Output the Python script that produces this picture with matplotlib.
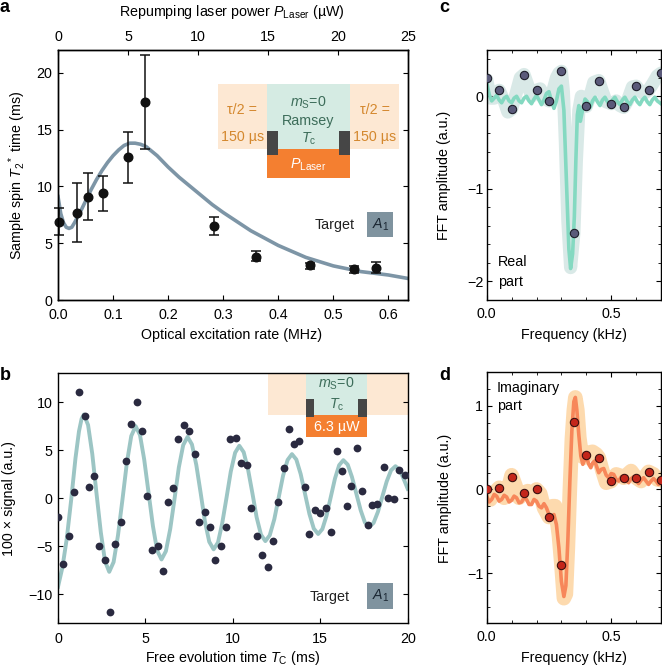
import matplotlib
matplotlib.use('Agg')
import matplotlib.pyplot as plt
from matplotlib.patches import Rectangle
from matplotlib.ticker import MultipleLocator, FormatStrFormatter

plt.rcParams['font.family'] = ['Liberation Sans', 'DejaVu Sans']
plt.rcParams['font.size'] = 10.3
plt.rcParams['mathtext.fontset'] = 'custom'
plt.rcParams['mathtext.rm'] = 'Liberation Sans'
plt.rcParams['mathtext.it'] = 'Liberation Sans:italic'
plt.rcParams['mathtext.bf'] = 'Liberation Sans:bold'
plt.rcParams['axes.linewidth'] = 1.0
plt.rcParams['xtick.direction'] = 'in'
plt.rcParams['ytick.direction'] = 'in'
plt.rcParams['xtick.major.size'] = 3.6
plt.rcParams['ytick.major.size'] = 3.6
plt.rcParams['xtick.minor.size'] = 2.0
plt.rcParams['ytick.minor.size'] = 2.0

# ---- panel a: T2* vs optical excitation rate
rate_a = [0.002, 0.034, 0.055, 0.081, 0.127, 0.158, 0.283, 0.359, 0.458, 0.538, 0.578]
t2_a = [6.9, 7.7, 9.1, 9.4, 12.55, 17.44, 6.5, 3.8, 3.08, 2.7, 2.85]
t2_hi = [8.06, 10.3, 11.2, 10.9, 14.8, 21.6, 7.3, 4.3, 3.3, 3.0, 3.37]
t2_lo = [5.7, 5.1, 7.0, 7.85, 10.3, 13.3, 5.7, 3.4, 2.75, 2.4, 2.4]
fit_a_x = [0, 0.005, 0.01, 0.015, 0.02, 0.025, 0.03, 0.04, 0.05, 0.06, 0.07, 0.08,
           0.09, 0.1, 0.11, 0.12, 0.13, 0.14, 0.15, 0.16, 0.18, 0.2, 0.22, 0.25,
           0.28, 0.3, 0.35, 0.4, 0.45, 0.5, 0.55, 0.6, 0.635]
fit_a_y = [9.1, 7.6, 6.8, 6.4, 6.3, 6.4, 6.8, 7.7, 8.7, 9.7, 10.6, 11.4,
           12.1, 12.7, 13.2, 13.6, 13.8, 13.8, 13.7, 13.5, 12.7, 11.7, 10.8, 9.6,
           8.4, 7.7, 6.1, 4.8, 3.75, 3.0, 2.5, 2.2, 1.9]

# ---- panel b: Ramsey signal
time_b = [0.0, 0.31, 0.63, 0.92, 1.2, 1.55, 1.78, 2.08, 2.37, 2.69, 2.98, 3.27, 3.61,
          3.9, 4.18, 4.49, 4.81, 5.08, 5.39, 5.73, 6.0, 6.3, 6.59, 6.88, 7.18, 7.51,
          7.83, 8.08, 8.4, 8.71, 9.0, 9.3, 9.61, 9.86, 10.2, 10.47, 10.81, 11.06,
          11.37, 11.69, 12.0, 12.3, 12.59, 12.91, 13.2, 13.49, 13.81, 14.1, 14.38,
          14.69, 15.01, 15.3, 15.59, 15.93, 16.22, 16.54, 16.77, 17.12, 17.4, 17.73,
          17.98, 18.26, 18.65, 18.87, 19.21, 19.5, 19.83]
signal_b = [-1.9, -6.8, -3.9, 0.7, 11.1, 8.6, 1.15, 2.36, -4.9, -6.4, -11.8, -4.75, -2.5,
            3.9, 7.8, 10.0, 7.05, 0.24, -5.4, -5.0, -7.6, -0.4, 1.04, 6.15, 7.64, 7.05,
            4.6, -2.5, -1.4, -3.0, -6.4, -5.0, -2.95, 6.15, 6.25, 3.7, 3.5, -1.0,
            -3.9, -5.9, -7.1, -4.4, -0.35, 3.2, 7.2, 5.7, 6.0, 1.2, -3.65,
            -1.2, -1.5, -1.0, -3.5, 4.96, 2.88, -0.8, 1.28, 5.3, 0.76, -2.78,
            -0.63, -0.6, 3.3, 0.0, -0.1, 2.98, 2.4]
fit_b_t = [0, 0.25, 0.5, 0.75, 1.0, 1.2, 1.35, 1.48,
           1.72, 1.96, 2.2, 2.45, 2.69, 2.93,
           3.18, 3.43, 3.69, 3.94, 4.19, 4.44,
           4.69, 4.93, 5.18, 5.43, 5.67, 5.92,
           6.17, 6.42, 6.67, 6.91, 7.16, 7.41,
           7.66, 7.91, 8.16, 8.40, 8.65, 8.9,
           9.15, 9.39, 9.64, 9.88, 10.13, 10.37,
           10.62, 10.87, 11.12, 11.36, 11.61, 11.86,
           12.11, 12.37, 12.62, 12.87, 13.13, 13.38,
           13.63, 13.88, 14.13, 14.38, 14.63, 14.88,
           15.12, 15.36, 15.6, 15.84, 16.08, 16.32,
           16.57, 16.81, 17.06, 17.31, 17.55, 17.8,
           18.05, 18.3, 18.55, 18.8, 19.05, 19.3,
           19.55, 19.8, 20.0]
fit_b_y = [-9.2, -7.2, -4.2, -0.2, 4.2, 7.0, 8.3, 8.75,
           7.65, 4.65, 0.56, -3.54, -6.54, -7.64,
           -6.62, -3.85, -0.06, 3.74, 6.51, 7.53,
           6.60, 4.06, 0.59, -2.88, -5.42, -6.35,
           -5.49, -3.16, 0.04, 3.23, 5.56, 6.42,
           5.63, 3.49, 0.56, -2.37, -4.51, -5.3,
           -4.58, -2.60, 0.10, 2.79, 4.77, 5.49,
           4.82, 3.01, 0.53, -1.96, -3.77, -4.44,
           -3.83, -2.17, 0.09, 2.36, 4.01, 4.62,
           4.06, 2.54, 0.46, -1.62, -3.14, -3.7,
           -3.18, -1.78, 0.15, 2.07, 3.47, 3.99,
           3.52, 2.25, 0.52, -1.22, -2.49, -2.96,
           -2.54, -1.38, 0.20, 1.78, 2.94, 3.36,
           2.96, 1.9, 1.0]

# ---- panels c, d: FFT
freq_pts = [0.0, 0.05, 0.1, 0.15, 0.2, 0.25, 0.3, 0.35, 0.4, 0.45, 0.5, 0.55, 0.6, 0.65, 0.7]
real_pts = [0.2, 0.065, -0.14, 0.235, 0.065, -0.05, 0.27, -1.48, -0.11, 0.17, -0.08, -0.12, 0.11, 0.065, 0.25]
imag_pts = [0.0, 0.02, 0.15, -0.04, 0.0, -0.33, -0.9, 0.81, 0.41, 0.38, 0.1, 0.14, 0.14, 0.21, 0.11]

band_c_x = [0.0, 0.015, 0.03, 0.05, 0.07, 0.085, 0.1, 0.115, 0.135, 0.15, 0.165, 0.18,
            0.2, 0.215, 0.235, 0.25, 0.265, 0.28, 0.29, 0.3, 0.308, 0.316, 0.326,
            0.337, 0.35, 0.36, 0.37, 0.38, 0.39, 0.4, 0.415, 0.43, 0.45, 0.465, 0.48,
            0.5, 0.52, 0.535, 0.55, 0.565, 0.585, 0.6, 0.615, 0.63, 0.65, 0.67, 0.685, 0.7]
band_c_y = [0.18, -0.02, -0.02, 0.065, -0.05, -0.17, -0.14, 0.0, 0.2, 0.235, 0.12, 0.0,
            0.065, 0.08, -0.03, -0.05, 0.05, 0.2, 0.25, 0.27, 0.05, -0.5, -1.35,
            -1.85, -1.48, -0.7, -0.15, 0.0, -0.08, -0.11, 0.0, 0.15, 0.17, 0.05, -0.06,
            -0.08, -0.05, -0.1, -0.12, -0.05, 0.1, 0.11, 0.06, 0.03, 0.065, 0.15, 0.22, 0.25]
line_c_x = [0.0, 0.01, 0.02, 0.03, 0.04, 0.05, 0.06, 0.07, 0.08, 0.09, 0.1, 0.11, 0.12,
            0.13, 0.14, 0.15, 0.16, 0.17, 0.18, 0.19, 0.2, 0.21, 0.22, 0.23, 0.24,
            0.25, 0.26, 0.27, 0.28, 0.29, 0.3, 0.31, 0.32, 0.33, 0.337, 0.345, 0.352,
            0.358, 0.364, 0.37, 0.376, 0.385, 0.395, 0.405, 0.415, 0.425, 0.435,
            0.445, 0.455, 0.465, 0.475, 0.485, 0.495, 0.505, 0.515, 0.525, 0.535,
            0.545, 0.555, 0.565, 0.575, 0.585, 0.595, 0.605, 0.615, 0.625, 0.635,
            0.645, 0.655, 0.665, 0.675, 0.685, 0.7]
line_c_y = [0.15, 0.02, -0.05, -0.02, 0.01, -0.04, -0.07, -0.02, 0.0, -0.05, -0.07, -0.02, 0.0,
            -0.05, -0.07, -0.02, 0.0, -0.05, -0.08, -0.03, 0.01, -0.04, -0.09, -0.04, 0.03,
            0.05, -0.05, -0.13, -0.05, 0.08, 0.11, -0.15, -0.9, -1.65, -1.86, -1.7, -1.3,
            -0.7, -0.2, -0.1, -0.27, -0.15, -0.03, -0.06, -0.12, -0.05, -0.01,
            -0.06, -0.1, -0.04, -0.01, -0.06, -0.09, -0.04, -0.01, -0.06, -0.09,
            -0.04, -0.01, -0.06, -0.09, -0.04, -0.01, -0.06, -0.09, -0.04, -0.01,
            -0.06, -0.09, -0.04, -0.01, -0.05, -0.08]

band_d_x = [0.0, 0.015, 0.03, 0.05, 0.07, 0.085, 0.1, 0.115, 0.13, 0.15, 0.165, 0.18,
            0.2, 0.215, 0.23, 0.25, 0.265, 0.275, 0.29, 0.3, 0.31, 0.318, 0.326, 0.334,
            0.342, 0.35, 0.356, 0.364, 0.372, 0.382, 0.392, 0.4, 0.41, 0.425, 0.44,
            0.45, 0.465, 0.48, 0.5, 0.52, 0.54, 0.55, 0.565, 0.58, 0.6, 0.62, 0.635,
            0.65, 0.67, 0.685, 0.7]
band_d_y = [-0.03, -0.12, -0.04, 0.02, -0.1, 0.0, 0.17, 0.05, -0.1, -0.04, -0.02, -0.08,
            0.0, -0.05, -0.22, -0.33, -0.2, -0.2, -0.55, -0.9, -1.3, -1.25, -0.7, 0.0,
            0.6, 0.95, 1.1, 0.95, 0.62, 0.4, 0.38, 0.41, 0.44, 0.45, 0.42,
            0.38, 0.22, 0.08, 0.1, 0.18, 0.16, 0.14, 0.18, 0.22, 0.14, 0.1, 0.15,
            0.21, 0.18, 0.12, 0.11]
line_d_x = [0.0, 0.01, 0.02, 0.03, 0.04, 0.05, 0.06, 0.07, 0.08, 0.09, 0.1, 0.11, 0.12,
            0.13, 0.14, 0.15, 0.16, 0.17, 0.18, 0.19, 0.2, 0.21, 0.22, 0.23, 0.24,
            0.25, 0.26, 0.27, 0.28, 0.29, 0.3, 0.31, 0.318, 0.326, 0.334, 0.342, 0.35,
            0.356, 0.362, 0.37, 0.378, 0.386, 0.394, 0.402, 0.41, 0.418, 0.426, 0.434,
            0.442, 0.45, 0.46, 0.47, 0.48, 0.49, 0.5, 0.51, 0.52, 0.53, 0.54, 0.55,
            0.56, 0.57, 0.58, 0.59, 0.6, 0.61, 0.62, 0.63, 0.64, 0.65, 0.66, 0.67,
            0.68, 0.69, 0.7]
line_d_y = [-0.08, -0.15, -0.12, -0.06, -0.08, -0.14, -0.12, -0.07, -0.09, -0.15, -0.13, -0.08, -0.1,
            -0.16, -0.15, -0.1, -0.12, -0.18, -0.18, -0.12, -0.14, -0.2, -0.22, -0.17, -0.22,
            -0.3, -0.33, -0.3, -0.42, -0.7, -1.1, -1.28, -1.15, -0.6, 0.1, 0.7, 1.05,
            1.1, 0.95, 0.65, 0.4, 0.3, 0.36, 0.38, 0.3, 0.26, 0.32, 0.34,
            0.27, 0.2, 0.24, 0.25, 0.17, 0.14, 0.19, 0.18, 0.12, 0.1, 0.15, 0.16,
            0.11, 0.08, 0.13, 0.15, 0.11, 0.07, 0.11, 0.14, 0.1, 0.06, 0.1, 0.13,
            0.1, 0.06, 0.08]

W, H = 662, 668
fig = plt.figure(figsize=(W / 100, H / 100), dpi=100)


def rect(l, t, r, b):
    return [l / W, 1 - b / H, (r - l) / W, (b - t) / H]


def fx(px):
    return px / W


def fy(py):
    return 1 - py / H


def box(ax, l, t, r, b, color, z=1.5):
    ax.add_artist(Rectangle((fx(l), fy(b)), (r - l) / W, (b - t) / H, transform=fig.transFigure,
                            facecolor=color, edgecolor='none', zorder=z, clip_on=False))


def ftext(ax, px, py, s, **kw):
    ax.text(fx(px), fy(py), s, transform=fig.transFigure, ha='center', va='center', **kw)


peach, mint, orange, dark = '#fde8d3', '#d5ebe3', '#f47f30', '#464646'
tau_col, ms_col = '#d4882e', '#3d6d5a'

ax_a = fig.add_axes(rect(58, 50, 407.7, 300))
ax_b = fig.add_axes(rect(58, 372.7, 407.7, 623.3))
ax_c = fig.add_axes(rect(486.7, 50, 661, 300))
ax_d = fig.add_axes(rect(486.7, 372.3, 661, 623.3))

# ---------------- a
ax_a.plot(fit_a_x, fit_a_y, color='#7d95a6', lw=2.6, zorder=2)
yerr = [[v - lo for v, lo in zip(t2_a, t2_lo)], [hi - v for v, hi in zip(t2_a, t2_hi)]]
ax_a.errorbar(rate_a, t2_a, yerr=yerr, fmt='o', color='#111111', ms=6.2, capsize=3.5,
              elinewidth=1.1, capthick=1.1, zorder=3, clip_on=False)
ax_a.set_xlim(0, 0.635)
ax_a.set_ylim(0, 22)
ax_a.xaxis.set_major_locator(MultipleLocator(0.1))
ax_a.xaxis.set_major_formatter(FormatStrFormatter('%.1f'))
ax_a.yaxis.set_major_locator(MultipleLocator(5))
ax_a.tick_params(right=True, pad=4)
ax_a.tick_params(axis='x', pad=6)
ax_top = ax_a.twiny()
ax_top.set_xlim(0, 25)
ax_top.xaxis.set_major_locator(MultipleLocator(5))
ax_top.tick_params(pad=4)
ax_a.set_xlabel('Optical excitation rate (MHz)', va='center')
ax_a.xaxis.set_label_coords(fx(232), fy(335), transform=fig.transFigure)
ax_a.set_ylabel(r'Sample spin $T_2{}^*$ time (ms)', va='center')
ax_a.yaxis.set_label_coords(fx(17), fy(175), transform=fig.transFigure)
ax_top.set_xlabel(r'Repumping laser power $P_{\rm Laser}$ (µW)', va='center')
ax_top.xaxis.set_label_coords(fx(232), fy(12), transform=fig.transFigure)

box(ax_a, 218.3, 84, 266.7, 149.3, peach)
box(ax_a, 350, 84, 399, 149.3, peach)
box(ax_a, 266.7, 84, 350, 149.3, mint)
box(ax_a, 266.7, 149.3, 350, 177.5, orange)
box(ax_a, 266.7, 131, 278.3, 155, dark, 1.6)
box(ax_a, 339.3, 131, 350, 155, dark, 1.6)
for cx in (242.5, 374.5):
    ftext(ax_a, cx, 110, 'τ/2 =', color=tau_col)
    ftext(ax_a, cx, 136.5, '150 µs', color=tau_col)
ftext(ax_a, 308.3, 103.3, r'$m_{\rm S}$=0', color=ms_col)
ftext(ax_a, 308.3, 121, 'Ramsey', color=ms_col)
ftext(ax_a, 308.3, 138.3, r'$T_{\rm c}$', color=ms_col)
ftext(ax_a, 308.3, 164.5, r'$P_{\rm Laser}$', color='white')
ftext(ax_a, 335, 225, 'Target', color='#222222')
box(ax_a, 367.3, 211.7, 393.3, 237.3, '#7f939f')
ftext(ax_a, 380.3, 224.5, r'$A_1$', color='#1b2733', zorder=2)

# ---------------- b
ax_b.plot(fit_b_t, fit_b_y, color='#9cc5c4', lw=2.8, zorder=2)
ax_b.plot(time_b, signal_b, 'o', color='#2a2a40', ms=5.6, mew=0, zorder=3)
ax_b.set_xlim(0, 20)
ax_b.set_ylim(-13, 13.1)
ax_b.xaxis.set_major_locator(MultipleLocator(5))
ax_b.yaxis.set_major_locator(MultipleLocator(5))
ax_b.tick_params(right=True, pad=4)
ax_b.tick_params(axis='x', pad=6)
ax_b.set_xlabel(r'Free evolution time $T_{\rm C}$ (ms)', va='center')
ax_b.xaxis.set_label_coords(fx(233), fy(658), transform=fig.transFigure)
ax_b.set_ylabel('100 × signal (a.u.)', va='center')
ax_b.yaxis.set_label_coords(fx(9), fy(498), transform=fig.transFigure)

box(ax_b, 268.3, 372.7, 407.7, 415, peach)
box(ax_b, 306, 372.7, 367.3, 415, mint)
box(ax_b, 306, 415, 367.3, 437.3, orange)
box(ax_b, 306, 399.3, 314.3, 416.7, dark, 1.6)
box(ax_b, 358.3, 399.3, 367.3, 416.7, dark, 1.6)
ftext(ax_b, 336.7, 383.3, r'$m_{\rm S}$=0', color=ms_col)
ftext(ax_b, 336.7, 405, r'$T_{\rm c}$', color=ms_col)
ftext(ax_b, 336.7, 427.5, '6.3 µW', color='white')
ftext(ax_b, 330, 596.7, 'Target', color='#222222')
box(ax_b, 367.3, 582.7, 393.3, 608.7, '#7f939f')
ftext(ax_b, 380.3, 595.5, r'$A_1$', color='#1b2733', zorder=2)

# ---------------- c, d
for ax in (ax_c, ax_d):
    ax.set_xlim(0, 0.7)
    ax.xaxis.set_major_locator(MultipleLocator(0.5))
    ax.xaxis.set_minor_locator(MultipleLocator(0.1))
    ax.xaxis.set_major_formatter(FormatStrFormatter('%.1f'))
    ax.yaxis.set_major_locator(MultipleLocator(1))
    ax.yaxis.set_minor_locator(MultipleLocator(0.2))
    ax.tick_params(which='both', top=True, right=True)
    ax.tick_params(axis='y', pad=2.5)
    ax.tick_params(axis='x', pad=5)
    ax.set_xlabel('Frequency (kHz)', va='center')
    ax.set_ylabel('FFT amplitude (a.u.)', va='center')

ax_c.plot(band_c_x, band_c_y, color='#d9e9e7', lw=9.5, solid_capstyle='round',
          solid_joinstyle='round', zorder=1)
ax_c.plot(line_c_x, line_c_y, color='#84d9c1', lw=2.6, zorder=2)
ax_c.plot(freq_pts, real_pts, 'o', color='#5a5a7a', mec='#1e1e2a', mew=0.8, ms=6, zorder=3)
ax_c.set_ylim(-2.2, 0.5)
ax_c.xaxis.set_label_coords(fx(573.8), fy(335), transform=fig.transFigure)
ax_c.yaxis.set_label_coords(fx(444), fy(175), transform=fig.transFigure)
ax_c.text(fx(498), fy(261.7), 'Real', transform=fig.transFigure, va='center', ha='left')
ax_c.text(fx(498), fy(281.7), 'part', transform=fig.transFigure, va='center', ha='left')

ax_d.plot(band_d_x, band_d_y, color='#fddaae', lw=10.5, solid_capstyle='round',
          solid_joinstyle='round', zorder=1)
ax_d.plot(line_d_x, line_d_y, color='#f7875a', lw=2.6, zorder=2)
ax_d.plot(freq_pts, imag_pts, 'o', color='#c4261b', mec='#3a1010', mew=0.8, ms=6, zorder=3)
ax_d.set_ylim(-1.6, 1.4)
ax_d.xaxis.set_label_coords(fx(573.8), fy(658), transform=fig.transFigure)
ax_d.yaxis.set_label_coords(fx(445), fy(498), transform=fig.transFigure)
ax_d.text(fx(497), fy(388.3), 'Imaginary', transform=fig.transFigure, va='center', ha='left')
ax_d.text(fx(497), fy(406), 'part', transform=fig.transFigure, va='center', ha='left')

# panel letters
for px, py, s in ((0, 8, 'a'), (0, 376, 'b'), (439, 8, 'c'), (439, 376, 'd')):
    fig.text(fx(px), fy(py), s, fontsize=13, fontweight='bold', ha='left', va='center')

fig.savefig('out.png', dpi=100)
